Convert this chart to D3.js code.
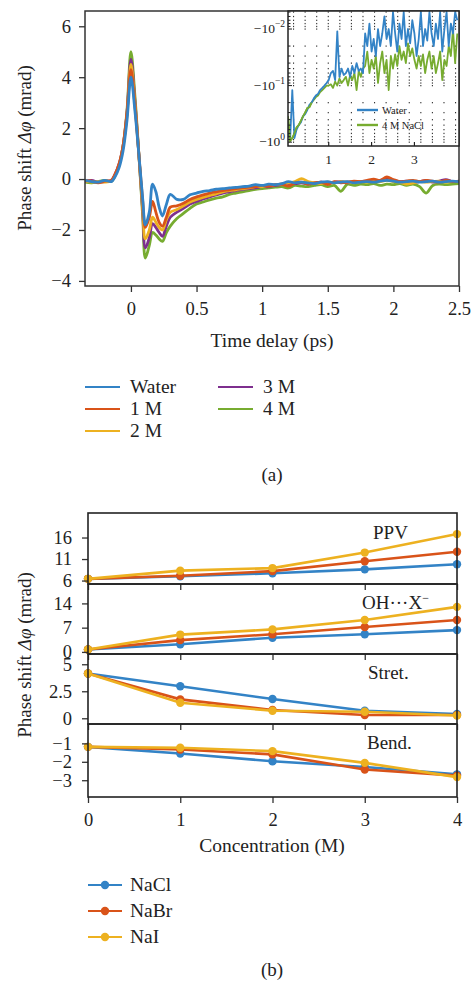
<!DOCTYPE html>
<html>
<head>
<meta charset="UTF-8">
<script src="https://d3js.org/d3.v7.min.js"></script>
<style>
  body { margin: 0; background: #fff; }
  svg text { font-family: "Liberation Serif", "Times New Roman", serif; fill: #222; }
  .axis path, .axis line { stroke: #333; stroke-width: 1.3px; }
  .axis text { font-size: 18.5px; font-family: "Liberation Serif", serif; fill: #222; }
  .frame { fill: none; stroke: #333; stroke-width: 1.5px; }
</style>
</head>
<body>
<svg id="chart" width="473" height="981"></svg>
<script>
// ---------- panel (a) data ----------
const timeDelay = [-0.35,-0.3,-0.25,-0.2,-0.15, -0.12,-0.09,-0.06,-0.03,0, 0.03,0.06,0.09,0.11,0.14,
  0.165,0.19,0.215,0.24,0.27, 0.3,0.35,0.4,0.45,0.5, 0.55,0.6,0.65,0.7,0.75, 0.8,0.85,0.9,0.95,1.0,
  1.05,1.1,1.15,1.2,1.25, 1.3,1.35,1.4,1.45,1.5, 1.55,1.6,1.65,1.7,1.75, 1.8,1.85,1.9,1.95,2.0,
  2.05,2.1,2.15,2.2,2.25, 2.3,2.35,2.4,2.45,2.5];
const water = [-0.05,-0.1,-0.12,-0.05,-0.1, 0.1,0.45,1.1,2.3,4.0, 2.7,1.0,-0.8,-1.8,-1.3,
  -0.2,-0.5,-1.1,-1.45,-1.0, -0.6,-0.8,-0.8,-0.62,-0.55, -0.48,-0.45,-0.4,-0.38,-0.35, -0.33,-0.3,-0.28,-0.22,-0.25,
  -0.2,-0.22,-0.18,-0.1,-0.15, -0.12,-0.15,-0.18,-0.12,-0.1, -0.15,-0.12,-0.1,-0.15,-0.12, -0.1,-0.12,-0.08,-0.05,-0.08,
  -0.12,-0.1,-0.08,-0.12,-0.1, -0.08,-0.12,-0.1,-0.08,-0.1];
const conc1M = [-0.05,-0.08,-0.15,-0.08,-0.05, 0.2,0.6,1.3,2.6,4.3, 2.9,1.0,-0.9,-1.9,-1.5,
  -0.88,-1.3,-1.7,-1.85,-1.5, -1.1,-1.05,-0.95,-0.8,-0.7, -0.62,-0.55,-0.5,-0.45,-0.42, -0.38,-0.35,-0.32,-0.3,-0.25,
  -0.28,-0.22,-0.2,-0.28,-0.15, -0.12,-0.2,-0.15,-0.12,-0.22, -0.1,-0.15,-0.12,-0.08,-0.1, -0.05,0.0,-0.05,0.08,-0.02,
  -0.1,-0.08,-0.05,-0.1,-0.05, -0.08,-0.12,-0.05,-0.1,-0.08];
const conc2M = [-0.08,-0.12,-0.1,-0.12,-0.08, 0.15,0.55,1.25,2.5,4.5, 3.0,1.0,-1.2,-2.35,-2.0,
  -1.5,-1.7,-1.9,-2.0,-1.6, -1.3,-1.2,-1.05,-0.9,-0.8, -0.72,-0.65,-0.58,-0.5,-0.45, -0.42,-0.38,-0.35,-0.3,-0.3,
  -0.25,-0.22,-0.2,-0.15,-0.1, 0.02,-0.1,-0.15,-0.18,-0.12, -0.15,-0.1,-0.12,-0.15,-0.1, -0.12,-0.08,-0.1,-0.05,-0.1,
  -0.12,-0.2,-0.15,-0.1,-0.12, -0.1,-0.08,-0.12,-0.1,-0.1];
const conc3M = [-0.1,-0.05,-0.12,-0.1,-0.05, 0.2,0.6,1.3,2.6,4.7, 3.1,1.0,-1.3,-2.7,-2.3,
  -1.75,-1.9,-2.1,-2.25,-1.85, -1.5,-1.3,-1.15,-0.98,-0.88, -0.78,-0.7,-0.62,-0.55,-0.5, -0.45,-0.4,-0.38,-0.35,-0.3,
  -0.3,-0.25,-0.22,-0.2,-0.18, -0.15,-0.2,-0.15,-0.12,-0.15, -0.12,-0.1,-0.15,-0.12,-0.1, -0.08,-0.1,-0.05,0.0,-0.05,
  -0.1,-0.08,-0.12,-0.1,-0.05, -0.12,-0.08,-0.02,-0.1,-0.08];
const conc4M = [-0.12,-0.15,-0.1,-0.05,-0.1, 0.15,0.55,1.3,2.7,5.0, 3.3,1.0,-1.5,-3.1,-2.6,
  -2.1,-2.2,-2.35,-2.45,-2.1, -1.85,-1.55,-1.35,-1.15,-0.98, -0.9,-0.82,-0.75,-0.7,-0.6, -0.55,-0.5,-0.45,-0.4,-0.38,
  -0.35,-0.32,-0.3,-0.35,-0.25, -0.28,-0.3,-0.25,-0.22,-0.3, -0.25,-0.48,-0.2,-0.25,-0.2, -0.22,-0.18,-0.25,-0.2,-0.22,
  -0.18,-0.25,-0.2,-0.3,-0.55, -0.25,-0.2,-0.22,-0.2,-0.18];
const seriesNames = ["Water", "1 M", "2 M", "3 M", "4 M"];
const seriesValues = [water, conc1M, conc2M, conc3M, conc4M];
const seriesColors = ["#3383c6", "#d95319", "#edb120", "#7e2f8e", "#77ac30"];
const timeTicks = [0, 0.5, 1, 1.5, 2, 2.5];
const phaseTicks = [-4, -2, 0, 2, 4, 6];

// inset (log scale of negative phase)
const insetTime = [0.05,0.1,0.15,0.2,0.25,0.3,0.35,0.4,0.45,0.5,0.55,0.6,0.65,0.7,0.75,0.8,0.85,0.9,0.95,1.0,
  1.05,1.1,1.15,1.2,1.25,1.3,1.35,1.4,1.45,1.5,1.55,1.6,1.65,1.7,1.75,1.8,1.85,1.9,1.95,2.0,
  2.05,2.1,2.15,2.2,2.25,2.3,2.35,2.4,2.45,2.5,2.55,2.6,2.65,2.7,2.75,2.8,2.85,2.9,2.95,3.0,
  3.05,3.1,3.15,3.2,3.25,3.3,3.35,3.4,3.45,3.5,3.55,3.6,3.65,3.7,3.75,3.8,3.85,3.9,3.95,4.0];
const insetWater = [-0.7,-0.9,-0.12,-0.85,-0.6,-0.5,-0.45,-0.35,-0.32,-0.27,-0.22,-0.2,-0.17,-0.15,-0.14,-0.12,-0.11,-0.1,-0.09,-0.08,
  -0.06,-0.055,-0.08,-0.011,-0.07,-0.05,-0.065,-0.06,-0.05,-0.07,-0.045,-0.06,-0.04,-0.055,-0.05,-0.06,-0.012,-0.02,-0.008,-0.025,
  -0.015,-0.03,-0.01,-0.02,-0.012,-0.006,-0.015,-0.01,-0.02,-0.005,-0.012,-0.025,-0.008,-0.015,-0.005,-0.02,-0.01,-0.018,-0.007,-0.012,
  -0.03,-0.015,-0.005,-0.02,-0.01,-0.016,-0.005,-0.012,-0.02,-0.008,-0.015,-0.005,-0.025,-0.01,-0.005,-0.02,-0.008,-0.012,-0.005,-0.007];
const insetNaCl = [-0.35,-0.95,-0.85,-0.7,-0.55,-0.5,-0.42,-0.35,-0.3,-0.25,-0.24,-0.2,-0.18,-0.16,-0.15,-0.13,-0.12,-0.11,-0.1,-0.1,
  -0.095,-0.11,-0.085,-0.1,-0.075,-0.09,-0.08,-0.07,-0.1,-0.065,-0.08,-0.06,-0.12,-0.055,-0.07,-0.05,-0.045,-0.025,-0.06,-0.035,
  -0.05,-0.03,-0.09,-0.04,-0.025,-0.06,-0.035,-0.12,-0.03,-0.05,-0.028,-0.045,-0.02,-0.035,-0.025,-0.04,-0.018,-0.03,-0.022,-0.035,
  -0.05,-0.03,-0.045,-0.028,-0.06,-0.035,-0.025,-0.05,-0.03,-0.06,-0.04,-0.025,-0.08,-0.035,-0.045,-0.02,-0.03,-0.01,-0.04,-0.012];
const insetTimeTicks = [1, 2, 3];
const insetPhaseTicks = [0.01, 0.1, 1];
const insetTimeGrid = [0.05,0.32,0.59,0.86,1.13,1.4,1.67,1.94,2.21,2.48,2.75,3.02,3.29,3.56,3.83];

// ---------- panel (b) data ----------
const concentration = [0, 1, 2, 3, 4];
const saltNames = ["NaCl", "NaBr", "NaI"];
const saltColors = ["#3383c6", "#d95319", "#edb120"];
const ppvNaCl = [6.4, 7.0, 7.7, 8.6, 9.8];
const ppvNaBr = [6.4, 7.1, 8.2, 10.5, 12.7];
const ppvNaI  = [6.4, 8.3, 8.9, 12.5, 16.8];
const ohxNaCl = [0.7, 2.2, 4.1, 5.1, 6.3];
const ohxNaBr = [0.7, 3.4, 5.1, 7.2, 9.2];
const ohxNaI  = [0.7, 5.0, 6.5, 9.2, 13.0];
const stretNaCl = [4.14, 2.97, 1.78, 0.7, 0.4];
const stretNaBr = [4.14, 1.75, 0.76, 0.3, 0.3];
const stretNaI  = [4.14, 1.44, 0.7, 0.6, 0.25];
const bendNaCl = [-1.19, -1.55, -1.97, -2.28, -2.68];
const bendNaBr = [-1.19, -1.33, -1.6, -2.42, -2.75];
const bendNaI  = [-1.19, -1.24, -1.42, -2.06, -2.83];
const concTicks = [0, 1, 2, 3, 4];

const svg = d3.select("#chart");
const fmt = d3.format("~g");

// ================= (a) =================
const ax = {left: 85, right: 459, top: 11, bottom: 286};
const x = d3.scaleLinear().domain([-0.35, 2.5]).range([ax.left, ax.right]);
const y = d3.scaleLinear().domain([-4.2, 6.6]).range([ax.bottom, ax.top]);

svg.append("clipPath").attr("id", "clipA")
  .append("rect").attr("x", ax.left).attr("y", ax.top)
  .attr("width", ax.right - ax.left).attr("height", ax.bottom - ax.top);

const lineA = d3.line()
  .x((d, i) => x(timeDelay[i]))
  .y(d => y(d))
  .curve(d3.curveCatmullRom.alpha(0.5));

const gA = svg.append("g").attr("clip-path", "url(#clipA)");
for (let k = seriesValues.length - 1; k >= 0; k--) {
  gA.append("path")
    .attr("d", lineA(seriesValues[k]))
    .attr("fill", "none")
    .attr("stroke", seriesColors[k])
    .attr("stroke-width", 2.8)
    .attr("stroke-linejoin", "round");
}

svg.append("g").attr("class", "axis")
  .attr("transform", `translate(0,${ax.bottom})`)
  .call(d3.axisBottom(x).tickValues(timeTicks).tickFormat(fmt).tickSize(6).tickPadding(10))
  .call(g => g.select(".domain").remove());
svg.append("g").attr("class", "axis")
  .attr("transform", `translate(${ax.left},0)`)
  .call(d3.axisLeft(y).tickValues(phaseTicks).tickFormat(fmt).tickSize(6).tickPadding(8))
  .call(g => g.select(".domain").remove());
svg.append("rect").attr("class", "frame")
  .attr("x", ax.left).attr("y", ax.top)
  .attr("width", ax.right - ax.left).attr("height", ax.bottom - ax.top);

// y label (a)
const yLabA = svg.append("text")
  .attr("transform", "translate(31,148) rotate(-90)")
  .attr("text-anchor", "middle").attr("font-size", 19);
yLabA.append("tspan").text("Phase shift ");
yLabA.append("tspan").attr("font-style", "italic").text("Δφ");
yLabA.append("tspan").text(" (mrad)");

svg.append("text").attr("x", 272).attr("y", 347)
  .attr("text-anchor", "middle").attr("font-size", 19.5).text("Time delay (ps)");

// legend (a)
const legA = svg.append("g");
seriesNames.forEach((name, i) => {
  const col = i < 3 ? 0 : 1;
  const row = i < 3 ? i : i - 3;
  const lx = col === 0 ? 85 : 218;
  const ly = 387 + row * 22;
  legA.append("line").attr("x1", lx).attr("x2", lx + 35).attr("y1", ly).attr("y2", ly)
    .attr("stroke", seriesColors[i]).attr("stroke-width", 2.2);
  legA.append("text").attr("x", lx + 45).attr("y", ly + 6).attr("font-size", 19.5).text(name);
});

svg.append("text").attr("x", 272).attr("y", 481)
  .attr("text-anchor", "middle").attr("font-size", 19).text("(a)");

// ----- inset -----
const ins = {left: 288, right: 459, top: 11, bottom: 146};
const xi = d3.scaleLinear().domain([0.05, 4.04]).range([ins.left, ins.right]);
const yi = d3.scaleLog().domain([0.0048, 1.17]).range([ins.top, ins.bottom]);

svg.append("rect").attr("x", ins.left).attr("y", ins.top)
  .attr("width", ins.right - ins.left).attr("height", ins.bottom - ins.top).attr("fill", "#fff");
svg.append("clipPath").attr("id", "clipI")
  .append("rect").attr("x", ins.left).attr("y", ins.top)
  .attr("width", ins.right - ins.left).attr("height", ins.bottom - ins.top);

const gI = svg.append("g").attr("clip-path", "url(#clipI)");
// dotted grid: dots at grid intersections
const minorLog = yi.ticks().filter(d => d >= 0.0048 && d <= 1.17);
const gridDots = [];
insetTimeGrid.forEach(t => minorLog.forEach(m => gridDots.push([t, m])));
gI.selectAll(".dot").data(gridDots).join("rect")
  .attr("x", d => xi(d[0]) + 5).attr("y", d => yi(d[1]) - 0.6)
  .attr("width", 1.1).attr("height", 1.3).attr("fill", "#333");

const lineI = d3.line()
  .x((d, i) => xi(insetTime[i]))
  .y(d => yi(-d));
gI.append("path").attr("d", lineI(insetNaCl)).attr("fill", "none")
  .attr("stroke", "#77ac30").attr("stroke-width", 1.8).attr("stroke-linejoin", "round");
gI.append("path").attr("d", lineI(insetWater)).attr("fill", "none")
  .attr("stroke", "#3383c6").attr("stroke-width", 1.8).attr("stroke-linejoin", "round");
// NaCl early part on top where the two overlap
gI.append("path").attr("d", lineI(insetNaCl.slice(0, 12))).attr("fill", "none")
  .attr("stroke", "#77ac30").attr("stroke-width", 1.8);

// inset ticks
svg.append("g").selectAll("line").data(insetTimeTicks).join("line")
  .attr("x1", d => xi(d)).attr("x2", d => xi(d))
  .attr("y1", ins.bottom).attr("y2", ins.bottom - 4)
  .attr("stroke", "#222").attr("stroke-width", 1.2);
svg.append("g").selectAll("text").data(insetTimeTicks).join("text")
  .attr("x", d => xi(d)).attr("y", 164).attr("text-anchor", "middle")
  .attr("font-size", 13.5).text(d => d);
svg.append("g").selectAll("line").data(minorLog).join("line")
  .attr("x1", ins.left).attr("x2", d => ins.left + (insetPhaseTicks.includes(d) ? 4 : 2.5))
  .attr("y1", d => yi(d)).attr("y2", d => yi(d))
  .attr("stroke", "#222").attr("stroke-width", 1);
const yiLab = svg.append("g").selectAll("text").data(insetPhaseTicks).join("text")
  .attr("x", ins.left - 3).attr("y", d => yi(d) + 4).attr("text-anchor", "end")
  .attr("font-size", 13.5);
yiLab.append("tspan").text("−10");
yiLab.append("tspan").attr("dy", -6).attr("font-size", 9.5).text(d => d === 1 ? "0" : "−" + Math.round(-Math.log10(d)));

svg.append("rect").attr("x", ins.left).attr("y", ins.top)
  .attr("width", ins.right - ins.left).attr("height", ins.bottom - ins.top)
  .attr("fill", "none").attr("stroke", "#222").attr("stroke-width", 1.5);

// inset legend
[["Water", "#3383c6", 110], ["4 M NaCl", "#77ac30", 125]].forEach(([name, c, ly]) => {
  svg.append("line").attr("x1", 357).attr("x2", 378).attr("y1", ly).attr("y2", ly)
    .attr("stroke", c).attr("stroke-width", 2.4);
  svg.append("text").attr("x", 382).attr("y", ly + 3.5).attr("font-size", 10.5).text(name);
});

// ================= (b) =================
const xb = d3.scaleLinear().domain([0, 4]).range([88, 457]);
const panels = [
  {top: 513, bottom: 584, domain: [5.2, 21.7], ticks: [6, 11, 16], data: [ppvNaCl, ppvNaBr, ppvNaI], label: "PPV", lx: 373, ly: 539},
  {top: 584, bottom: 654, domain: [-0.6, 19.6], ticks: [0, 7, 14], data: [ohxNaCl, ohxNaBr, ohxNaI], label: "OH···X", lx: 362, ly: 609},
  {top: 654, bottom: 724, domain: [-0.53, 5.95], ticks: [0, 2.5, 5], data: [stretNaCl, stretNaBr, stretNaI], label: "Stret.", lx: 368, ly: 679},
  {top: 724, bottom: 797, domain: [-3.91, 0.05], ticks: [-3, -2, -1], data: [bendNaCl, bendNaBr, bendNaI], label: "Bend.", lx: 367, ly: 749}
];

panels.forEach((p, pi) => {
  const yb = d3.scaleLinear().domain(p.domain).range([p.bottom, p.top]);
  const g = svg.append("g");
  const lineB = d3.line().x((d, i) => xb(concentration[i])).y(d => yb(d));
  p.data.forEach((vals, si) => {
    g.append("path").attr("d", lineB(vals)).attr("fill", "none")
      .attr("stroke", saltColors[si]).attr("stroke-width", 2.6);
    g.selectAll(null).data(vals).join("circle")
      .attr("cx", (d, i) => xb(concentration[i])).attr("cy", d => yb(d))
      .attr("r", 4.2).attr("fill", saltColors[si]);
  });
  svg.append("g").attr("class", "axis")
    .attr("transform", `translate(88,0)`)
    .call(d3.axisLeft(yb).tickValues(p.ticks).tickFormat(fmt).tickSize(6).tickPadding(10))
    .call(a => a.select(".domain").remove());
  const last = pi === panels.length - 1;
  svg.append("g").attr("class", "axis")
    .attr("transform", `translate(0,${p.bottom})`)
    .call(d3.axisBottom(xb).tickValues(concTicks).tickFormat(last ? fmt : () => "").tickSize(6).tickPadding(10))
    .call(a => a.select(".domain").remove());
  svg.append("rect").attr("x", 88).attr("y", p.top)
    .attr("width", 457 - 88).attr("height", p.bottom - p.top)
    .attr("fill", "none").attr("stroke", "#222").attr("stroke-width", 1.6);
  const t = svg.append("text").attr("x", p.lx).attr("y", p.ly).attr("font-size", 19).text(p.label);
  if (p.label === "OH···X") {
    t.append("tspan").attr("dy", -7).attr("font-size", 12).text("−");
  }
});

const yLabB = svg.append("text")
  .attr("transform", "translate(31,655) rotate(-90)")
  .attr("text-anchor", "middle").attr("font-size", 19);
yLabB.append("tspan").text("Phase shift ");
yLabB.append("tspan").attr("font-style", "italic").text("Δφ");
yLabB.append("tspan").text(" (mrad)");

svg.append("text").attr("x", 272).attr("y", 852)
  .attr("text-anchor", "middle").attr("font-size", 19.5).text("Concentration (M)");

// legend (b)
saltNames.forEach((name, i) => {
  const ly = 885 + i * 26;
  svg.append("line").attr("x1", 88).attr("x2", 122).attr("y1", ly).attr("y2", ly)
    .attr("stroke", saltColors[i]).attr("stroke-width", 2.2);
  svg.append("circle").attr("cx", 105).attr("cy", ly).attr("r", 4.2).attr("fill", saltColors[i]);
  svg.append("text").attr("x", 130).attr("y", ly + 6).attr("font-size", 19.5).text(name);
});

svg.append("text").attr("x", 272).attr("y", 976)
  .attr("text-anchor", "middle").attr("font-size", 19).text("(b)");
</script>
</body>
</html>
